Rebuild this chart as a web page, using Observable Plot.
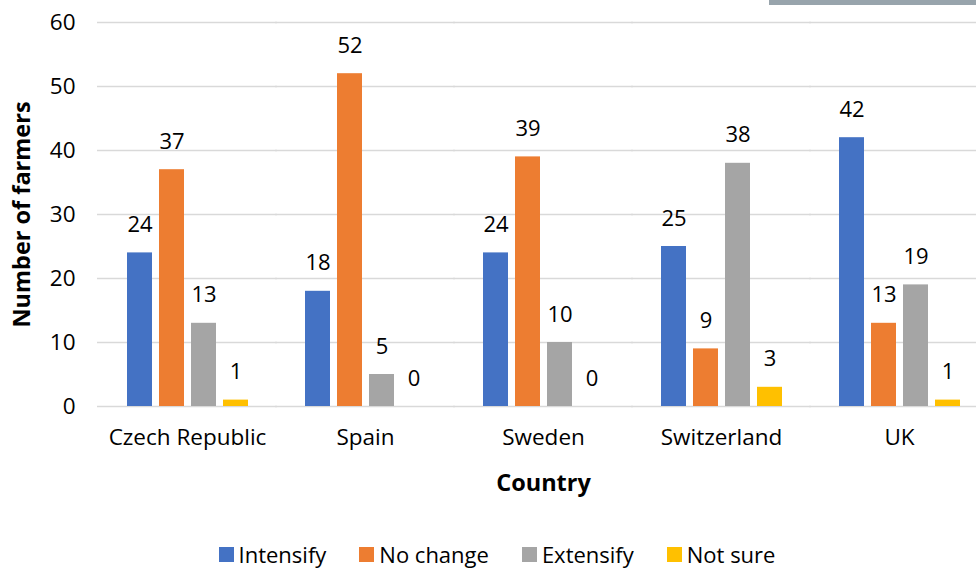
<!DOCTYPE html>
<html>
<head>
<meta charset="utf-8">
<script src="https://cdn.jsdelivr.net/npm/d3@7"></script>
<script src="https://cdn.jsdelivr.net/npm/@observablehq/plot@0.6"></script>
<style>
  body { margin: 0; background: #fff; font-family: "Open Sans", sans-serif; }
  #wrap { position: relative; width: 976px; height: 570px; overflow: hidden; }
  #topbar { position: absolute; left: 769px; top: 0; width: 207px; height: 5px; background: #98a4ac; }
  #legend { position: absolute; left: 18px; top: 541px; width: 958px; height: 26px; line-height: 26px; display: flex; justify-content: center; gap: 33px; font-size: 22px; color: #000; }
  #legend .item { display: flex; align-items: center; gap: 5px; }
  #legend .sw { width: 15px; height: 15px; display: inline-block; }
  svg g[aria-label="fx-axis label"] text, svg g[aria-label="y-axis label"] text { font-weight: bold; font-size: 23.5px; }
</style>
</head>
<body>
<div id="wrap">
  <div id="chart"></div>
  <div id="topbar"></div>
  <div id="legend"></div>
</div>
<script>
const countries = ["Czech Republic", "Spain", "Sweden", "Switzerland", "UK"];
const series = ["Intensify", "No change", "Extensify", "Not sure"];
const intensify = [24, 18, 24, 25, 42];
const noChange = [37, 52, 39, 9, 13];
const extensify = [13, 5, 10, 38, 19];
const notSure = [1, 0, 0, 3, 1];
const colors = ["#4472C4", "#ED7D31", "#A5A5A5", "#FFC000"];
const yTicks = [0, 10, 20, 30, 40, 50, 60];

const seriesValues = [intensify, noChange, extensify, notSure];
const data = countries.flatMap((c, i) => series.map((s, j) => ({country: c, series: s, value: seriesValues[j][i]})));

const chart = Plot.plot({
  width: 976,
  height: 510,
  marginLeft: 98,
  marginRight: 0,
  marginTop: 22,
  marginBottom: 104,
  style: {fontFamily: "Open Sans, sans-serif", fontSize: "22px", color: "#000", background: "#fff"},
  fx: {domain: countries, range: [98, 988], paddingInner: 0.28, paddingOuter: 0.14},
  x: {domain: series, paddingInner: 0.22, paddingOuter: 0.11, axis: null},
  y: {domain: [0, 60]},
  color: {domain: series, range: colors},
  marks: [
    Plot.ruleY(yTicks, {stroke: "#d9d9d9", strokeWidth: 1.5, insetLeft: -26, insetRight: -26}),
    Plot.barY(data, {fx: "country", x: "series", y: "value", fill: "series"}),
    Plot.text(data, {fx: "country", x: "series", y: "value", text: "value", dy: -28, fontSize: 22, fill: "#000"}),
    Plot.axisY({ticks: yTicks, tickSize: 0, tickPadding: 48, fontSize: 22.5, label: "Number of farmers", labelAnchor: "center", labelArrow: "none", labelOffset: 110}),
    Plot.axisFx({anchor: "bottom", tickSize: 0, tickPadding: 23, fontSize: 22.5, label: "Country", labelAnchor: "center", labelArrow: "none", labelOffset: 84})
  ]
});
document.getElementById("chart").appendChild(chart);

const legend = document.getElementById("legend");
series.forEach((s, i) => {
  const item = document.createElement("span");
  item.className = "item";
  const sw = document.createElement("span");
  sw.className = "sw";
  sw.style.background = colors[i];
  const t = document.createElement("span");
  t.textContent = s;
  item.appendChild(sw);
  item.appendChild(t);
  legend.appendChild(item);
});
</script>
</body>
</html>
